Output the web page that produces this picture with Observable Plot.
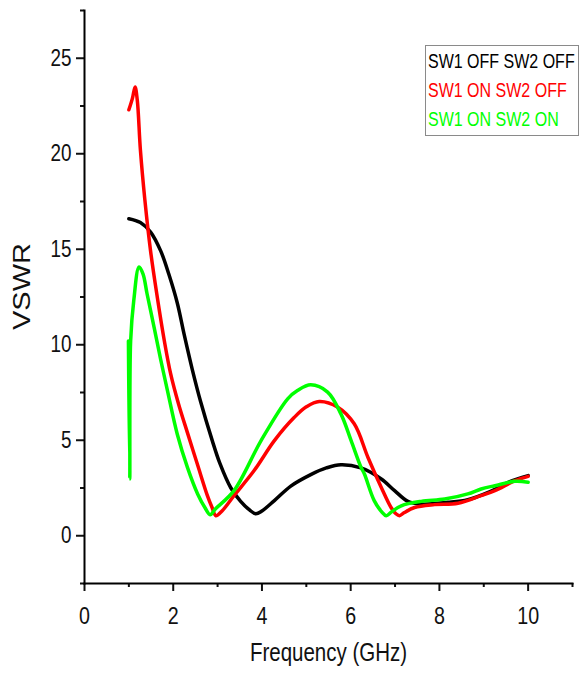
<!DOCTYPE html>
<html>
<head>
<meta charset="utf-8">
<script src="https://cdn.jsdelivr.net/npm/d3@7"></script>
<script src="https://cdn.jsdelivr.net/npm/@observablehq/plot@0.6"></script>
<style>
  body { margin: 0; background: #fff; }
  #wrap { position: relative; width: 584px; height: 673px; }
  #legend {
    position: absolute; left: 425px; top: 45px; width: 154px; height: 91px;
    box-sizing: border-box; border: 1.5px solid #8a8a8a; background: #fff;
    font-family: "Liberation Sans", Arial, sans-serif;
    font-size: 20px; line-height: 29px; padding: 1px 0 0 2px; white-space: nowrap;
  }
  #legend div { transform: scaleX(0.8); transform-origin: 0 50%; }
</style>
</head>
<body>
<div id="wrap"><div id="chart"></div><div id="legend"></div></div>
<script>
const FONT = '"Liberation Sans", Arial, sans-serif';

const seriesNames = ["SW1 OFF SW2 OFF", "SW1 ON SW2 OFF", "SW1 ON SW2 ON"];
const seriesColors = ["#000000", "#ff0000", "#00ff00"];

const freqOffOff = [1.0, 1.26, 1.49, 1.72, 1.9, 2.09, 2.25, 2.43, 2.62, 2.88, 3.05, 3.3, 3.52, 3.72, 3.86, 4.0, 4.28, 4.65, 5.1, 5.45, 5.78, 6.23, 6.69, 6.99, 7.29, 7.59, 8.19, 8.64, 9.1, 9.55, 10.0];
const vswrOffOff = [16.6, 16.4, 15.9, 14.9, 13.7, 12.2, 10.5, 8.7, 7.0, 4.98, 3.8, 2.5, 1.8, 1.35, 1.15, 1.3, 1.84, 2.6, 3.2, 3.55, 3.72, 3.55, 2.97, 2.36, 1.8, 1.66, 1.75, 1.89, 2.27, 2.8, 3.15];

const freqOnOff = [1.0, 1.08, 1.14, 1.19, 1.26, 1.36, 1.49, 1.64, 1.8, 1.94, 2.12, 2.32, 2.55, 2.77, 2.88, 2.96, 3.1, 3.37, 3.82, 4.28, 4.73, 5.0, 5.29, 5.71, 6.08, 6.39, 6.69, 6.91, 7.02, 7.1, 7.2, 7.44, 7.89, 8.42, 8.94, 9.25, 9.7, 10.0];
const vswrOnOff = [22.3, 22.9, 23.5, 22.8, 20.2, 17.6, 14.9, 12.5, 10.2, 8.5, 6.9, 5.4, 3.7, 2.1, 1.45, 1.05, 1.3, 2.1, 3.4, 4.98, 6.2, 6.75, 7.03, 6.73, 5.86, 4.1, 2.53, 1.48, 1.15, 1.05, 1.2, 1.48, 1.63, 1.7, 2.1, 2.36, 2.88, 3.11];

const freqOnOn = [0.99, 1.02, 1.04, 1.11, 1.23, 1.32, 1.41, 1.57, 1.72, 1.87, 2.09, 2.32, 2.55, 2.72, 2.83, 2.95, 3.37, 3.98, 4.58, 4.8, 5.1, 5.48, 5.78, 6.01, 6.23, 6.31, 6.53, 6.7, 6.8, 6.92, 7.14, 7.59, 8.12, 8.64, 8.94, 9.25, 9.7, 10.0];
const vswrOnOn = [10.2, 2.97, 10.2, 12.3, 14.07, 13.7, 12.67, 10.9, 9.2, 7.6, 5.33, 3.58, 2.19, 1.45, 1.1, 1.4, 2.36, 4.98, 7.17, 7.6, 7.9, 7.52, 6.38, 4.98, 3.6, 3.23, 1.84, 1.25, 1.05, 1.25, 1.57, 1.8, 1.92, 2.19, 2.45, 2.62, 2.85, 2.8];

const xTicks = [0, 2, 4, 6, 8, 10];
const xMinorTicks = [1, 3, 5, 7, 9, 11];
const yTicks = [0, 5, 10, 15, 20, 25];
const yMinorTicks = [-2.5, 2.5, 7.5, 12.5, 17.5, 22.5, 27.5];
const xLabel = "Frequency (GHz)";
const yLabel = "VSWR";

const allFreq = [freqOffOff, freqOnOff, freqOnOn];
const allVswr = [vswrOffOff, vswrOnOff, vswrOnOn];
const data = [];
seriesNames.forEach((s, i) => {
  allFreq[i].forEach((f, j) => data.push({s, f, v: allVswr[i][j]}));
});

const chart = Plot.plot({
  width: 584, height: 673,
  marginLeft: 84, marginRight: 12, marginTop: 10, marginBottom: 90,
  style: {fontFamily: FONT, fontSize: "22px", color: "#111", background: "#fff"},
  x: {domain: [0, 11]},
  y: {domain: [-2.5, 27.5]},
  color: {domain: seriesNames, range: seriesColors},
  marks: [
    Plot.axisX({ticks: xTicks, tickSize: 8, tickPadding: 15, strokeWidth: 2, label: null, fontSize: 24}),
    Plot.axisX({ticks: xMinorTicks, tickSize: 4, strokeWidth: 2, label: null, tickFormat: () => ""}),
    Plot.axisY({ticks: yTicks, tickSize: 8, tickPadding: 5, strokeWidth: 2, label: null, fontSize: 23}),
    Plot.axisY({ticks: yMinorTicks, tickSize: 4, strokeWidth: 2, label: null, tickFormat: () => ""}),
    Plot.frame({anchor: "left", stroke: "#000", strokeWidth: 2}),
    Plot.frame({anchor: "bottom", stroke: "#000", strokeWidth: 2}),
    Plot.line(data, {x: "f", y: "v", z: "s", stroke: "s", curve: "catmull-rom", strokeWidth: 3.5}),
    Plot.text([xLabel], {frameAnchor: "bottom", dy: 77, fontSize: 25, fill: "#111"}),
    Plot.text([yLabel], {frameAnchor: "left", dx: -63, rotate: -90, fontSize: 24, fill: "#111"})
  ]
});
document.getElementById("chart").appendChild(chart);

// condense / stretch the glyphs like the reference's narrow face
chart.querySelectorAll("text").forEach(t => {
  const txt = t.textContent;
  if (!txt) return;
  if (txt === yLabel) {
    // place the rotated axis title where the reference has it (absolute coordinates)
    if (t.parentNode && t.parentNode.removeAttribute) t.parentNode.removeAttribute("transform");
    t.setAttribute("transform", "translate(21,330) rotate(-90)");
    t.setAttribute("text-anchor", "start");
    t.removeAttribute("x");
    t.removeAttribute("y");
    t.setAttribute("dy", "0.36em");
    t.setAttribute("textLength", "87");
    t.setAttribute("lengthAdjust", "spacingAndGlyphs");
    return;
  }
  const w = t.getComputedTextLength();
  if (w > 0) {
    t.setAttribute("textLength", (w * 0.82).toFixed(2));
    t.setAttribute("lengthAdjust", "spacingAndGlyphs");
  }
});

const legend = document.getElementById("legend");
seriesNames.forEach((s, i) => {
  const d = document.createElement("div");
  d.textContent = s;
  d.style.color = seriesColors[i];
  legend.appendChild(d);
});
</script>
</body>
</html>
